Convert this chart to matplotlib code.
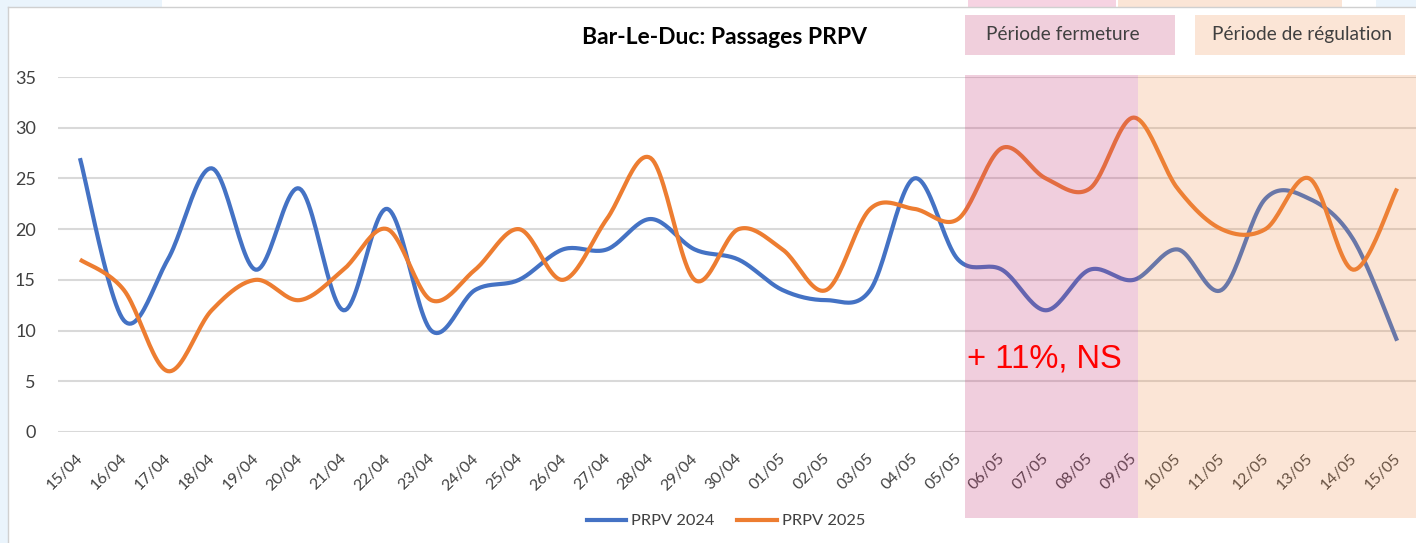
import numpy as np
import matplotlib
matplotlib.use("Agg")
import matplotlib.pyplot as plt
from matplotlib.patches import Rectangle
from matplotlib.lines import Line2D
import matplotlib.transforms as mtransforms

# ---------------- data ----------------
dates = ["15/04", "16/04", "17/04", "18/04", "19/04", "20/04", "21/04", "22/04",
         "23/04", "24/04", "25/04", "26/04", "27/04", "28/04", "29/04", "30/04",
         "01/05", "02/05", "03/05", "04/05", "05/05", "06/05", "07/05", "08/05",
         "09/05", "10/05", "11/05", "12/05", "13/05", "14/05", "15/05"]
prpv_2024 = [27, 11, 17, 26, 16, 24, 12, 22, 10, 14, 15, 18, 18, 21, 18, 17,
             14, 13, 14, 25, 17, 16, 12, 16, 15, 18, 14, 23, 23, 19, 9]
prpv_2025 = [17, 14, 6, 12, 15, 13, 16, 20, 13, 16, 20, 15, 21, 27, 15, 20,
             18, 14, 22, 22, 21, 28, 25, 24, 31, 24, 20, 20, 25, 16, 24]
series_names = ["PRPV 2024", "PRPV 2025"]
y_ticks = [0, 5, 10, 15, 20, 25, 30, 35]
title = "Bar-Le-Duc: Passages PRPV"
period_labels = ["Période fermeture", "Période de régulation"]
annotation = "+ 11%, NS"
# shaded periods, in category-index units
fermeture_span = (20.15, 24.1)
regulation_span = (24.1, 30.6)

W, H = 1416, 543
FONT = "Lato"
BLUE = "#4472C4"
ORANGE = "#ED7D31"
TXT = "#404040"


def smooth(y, n=24):
    """Catmull-Rom spline through points (Excel-like smoothed line)."""
    y = np.asarray(y, float)
    x = np.arange(len(y), dtype=float)
    P = np.column_stack([x, y])
    P = np.vstack([P[0], P, P[-1]])
    out = []
    t = np.linspace(0, 1, n, endpoint=False)[:, None]
    for i in range(1, len(P) - 2):
        p0, p1, p2, p3 = P[i - 1], P[i], P[i + 1], P[i + 2]
        b0 = p1
        b1 = p1 + (p2 - p0) / 6
        b2 = p2 - (p3 - p1) / 6
        b3 = p2
        seg = ((1 - t) ** 3) * b0 + 3 * ((1 - t) ** 2) * t * b1 + 3 * (1 - t) * t ** 2 * b2 + t ** 3 * b3
        out.append(seg)
    out.append(P[-2][None, :])
    out = np.vstack(out)
    return out[:, 0], out[:, 1]


def fx(px):
    return px / W


def fy(py):
    return 1 - py / H


fig = plt.figure(figsize=(W / 100, H / 100), dpi=100)
fig.patch.set_facecolor("white")

# screenshot frame details
fig.patches.append(Rectangle((0, 0), fx(8), 1, transform=fig.transFigure,
                             facecolor="#EAF4FC", edgecolor="none", zorder=0))
fig.patches.append(Rectangle((0, fy(7)), fx(162), 7 / H, transform=fig.transFigure,
                             facecolor="#EAF4FC", edgecolor="none", zorder=0))
fig.patches.append(Rectangle((fx(968), fy(7)), fx(1116 - 968), 7 / H, transform=fig.transFigure,
                             facecolor="#F6D3E2", edgecolor="none", zorder=0))
fig.patches.append(Rectangle((fx(1118), fy(7)), fx(1342 - 1118), 7 / H, transform=fig.transFigure,
                             facecolor="#FBE5D6", edgecolor="none", zorder=0))
fig.patches.append(Rectangle((fx(1376), fy(7)), fx(40), 7 / H, transform=fig.transFigure,
                             facecolor="#EAF4FC", edgecolor="none", zorder=0))
fig.add_artist(Line2D([fx(8), fx(8)], [0, fy(7)], transform=fig.transFigure, color="#D0D0D0", lw=1))
fig.add_artist(Line2D([fx(8), 1], [fy(7), fy(7)], transform=fig.transFigure, color="#D0D0D0", lw=1))

ax = fig.add_axes([fx(58), fy(432), (1416 - 58) / W, (432 - 77) / H])
ax.set_facecolor("none")
x = np.arange(len(dates))
ax.set_xlim(-0.5, 30.43)
ax.set_ylim(0, 35)

for v in y_ticks:
    ax.axhline(v, color="#D9D9D9", lw=1.5, zorder=1)

for vals, col in [(prpv_2024, BLUE), (prpv_2025, ORANGE)]:
    sx, sy = smooth(vals)
    ax.plot(sx, sy, color=col, lw=3.0, solid_capstyle="butt", zorder=3)

# shaded periods drawn over lines
trans = mtransforms.blended_transform_factory(ax.transData, ax.transAxes)
ax.add_patch(Rectangle((fermeture_span[0], -0.242), fermeture_span[1] - fermeture_span[0], 1.248,
                       transform=trans, facecolor=(0.78, 0.24, 0.47), alpha=0.25,
                       edgecolor="none", clip_on=False, zorder=4))
ax.add_patch(Rectangle((regulation_span[0], -0.242), regulation_span[1] - regulation_span[0], 1.248,
                       transform=trans, facecolor=(0.94, 0.55, 0.27), alpha=0.22,
                       edgecolor="none", clip_on=False, zorder=4))

for s in ax.spines.values():
    s.set_visible(False)
ax.set_yticks(y_ticks)
ax.set_yticklabels([str(v) for v in y_ticks], fontsize=13, color=TXT, family=FONT)
ax.tick_params(axis="y", length=0, pad=16)
ax.set_xticks(x)
ax.set_xticklabels(dates, rotation=45, ha="right", va="top", rotation_mode="anchor",
                   fontsize=11.5, color=TXT, family=FONT)
ax.tick_params(axis="x", length=0, pad=14)
for lbl in ax.get_xticklabels():
    lbl.set_transform(lbl.get_transform() + mtransforms.ScaledTranslation(-4 / 100, 0, fig.dpi_scale_trans))

# title
fig.text(fx(724), fy(38), title, ha="center", va="center", fontsize=16.5,
         fontweight="bold", color="#000000", family=FONT)

# period label boxes
fig.patches.append(Rectangle((fx(965), fy(55)), fx(1175 - 965), 40 / H, transform=fig.transFigure,
                             facecolor="#F0CFDC", edgecolor="none"))
fig.text(fx(1063), fy(35), period_labels[0], ha="center", va="center", fontsize=13.8,
         color=TXT, family=FONT)
fig.patches.append(Rectangle((fx(1195), fy(55)), fx(1405 - 1195), 40 / H, transform=fig.transFigure,
                             facecolor="#FBE5D6", edgecolor="none"))
fig.text(fx(1302), fy(35), period_labels[1], ha="center", va="center", fontsize=13.8,
         color=TXT, family=FONT)

# annotation
fig.text(fx(967), fy(359), annotation, ha="left", va="center", fontsize=23.5,
         color="#FF0000", family="Liberation Sans")

# legend
handles = [Line2D([0], [0], color=BLUE, lw=3), Line2D([0], [0], color=ORANGE, lw=3)]
fig.legend(handles, series_names, loc="center", bbox_to_anchor=(fx(726), fy(521)), ncol=2,
           frameon=False, prop={"family": FONT, "size": 11.8}, labelcolor=TXT,
           handlelength=2.4, handletextpad=0.3, columnspacing=1.4)

fig.savefig("out.png", dpi=100)
